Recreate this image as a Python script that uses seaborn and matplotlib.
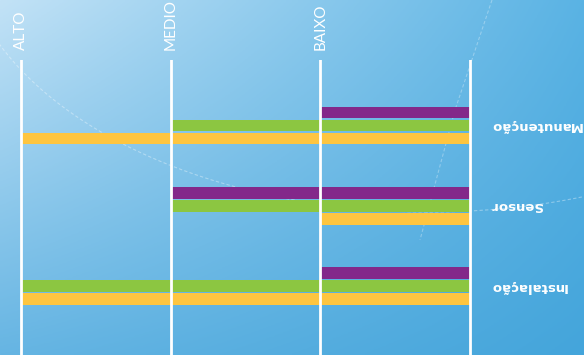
import matplotlib
matplotlib.use('Agg')
import matplotlib.pyplot as plt
import pandas as pd
import seaborn as sns
import numpy as np

# dados
categorias = ['Manutenção', 'Sensor', 'Instalação']
niveis = ['ALTO', 'MEDIO', 'BAIXO', '']
valores_niveis = [3, 2, 1, 0]
roxo = [1, 2, 1]
verde = [2, 2, 3]
amarelo = [3, 1, 3]

series = ['roxo', 'verde', 'amarelo']
cores = ['#83288a', '#8cc641', '#fec540']

df = pd.DataFrame({
    'categoria': categorias * 3,
    'serie': ['roxo'] * 3 + ['verde'] * 3 + ['amarelo'] * 3,
    'valor': roxo + verde + amarelo,
})

fig = plt.figure(figsize=(5.84, 3.55), dpi=100)

# fundo em degrade
bg = fig.add_axes([0, 0, 1, 1])
c_tl = np.array([0xc2, 0xe2, 0xf6]) / 255
c_tr = np.array([0x5a, 0xb3, 0xe4]) / 255
c_bl = np.array([0x66, 0xb5, 0xe3]) / 255
c_br = np.array([0x44, 0xa5, 0xdb]) / 255
u = np.linspace(0, 1, 200)[None, :, None]
v = np.linspace(0, 1, 120)[:, None, None]
grad = (1 - u) * (1 - v) * c_tl + u * (1 - v) * c_tr + (1 - u) * v * c_bl + u * v * c_br
bg.imshow(grad, extent=[0, 584, 355, 0], aspect='auto')
# arcos decorativos
t = np.linspace(-1, 0.33, 200)
bg.plot(430 + 470 * t, -68 + 280 * np.sqrt(1 - t ** 2), color='white', alpha=0.35,
        lw=0.8, ls=(0, (3, 2)))
bg.plot([492, 455, 420], [0, 110, 240], color='white', alpha=0.3, lw=0.8, ls=(0, (3, 2)))
bg.set_xlim(0, 584)
bg.set_ylim(355, 0)
bg.axis('off')

ax = fig.add_axes([0, 0, 1, 1 - 60 / 355])
ax.set_facecolor('none')

sns.barplot(data=df, y='categoria', x='valor', hue='serie', order=categorias,
            hue_order=series, palette=cores, orient='h', width=0.486, gap=0.117,
            saturation=1, linewidth=0, legend=False, ax=ax)

ax.set_xlim(3.14, -0.762)
ax.set_ylim(2.858, -0.816)

ax.set_xticks(valores_niveis)
ax.set_xticklabels(niveis)
ax.xaxis.tick_top()
ax.tick_params(axis='x', length=0, pad=7, labelcolor='white', labelsize=11,
               labelrotation=90)
for lab in ax.get_xticklabels():
    lab.set_family('Lato')
ax.set_yticks([])
ax.set_xlabel('')
ax.set_ylabel('')
for s in ax.spines.values():
    s.set_visible(False)

ax.grid(axis='x', color='white', linewidth=2)
ax.set_axisbelow(False)

for i, cat in enumerate(categorias):
    ax.text(-0.134, i, cat, rotation=180, ha='left', va='center', color='white',
            fontsize=9.5, fontweight='bold', family='DejaVu Sans')

fig.savefig('out.png', dpi=100)
